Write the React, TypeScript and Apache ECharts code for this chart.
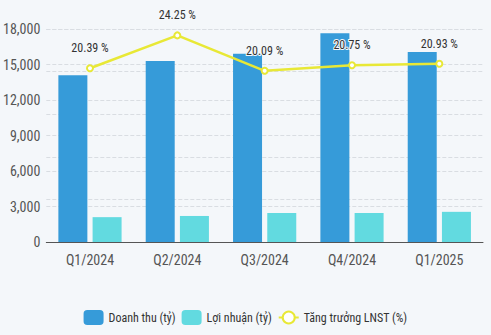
import React, { useEffect, useRef } from "react";
import * as echarts from "echarts";

const categories = ["Q1/2024", "Q2/2024", "Q3/2024", "Q4/2024", "Q1/2025"];
const revenue = [14100, 15300, 15900, 17650, 16050];
const profit = [2100, 2200, 2450, 2450, 2550];
const growth = [20.39, 24.25, 20.09, 20.75, 20.93];
const seriesNames = ["Doanh thu (tỷ)", "Lợi nhuận (tỷ)", "Tăng trưởng LNST (%)"];

export default function App() {
  const ref = useRef<HTMLDivElement>(null);
  useEffect(() => {
    if (!ref.current) return;
    const chart = echarts.init(ref.current, null, { renderer: "svg" });
    const font = "'Liberation Sans Narrow', 'Roboto Condensed', Roboto, sans-serif";
    chart.setOption({
      animation: false,
      backgroundColor: "#f4f7fa",
      textStyle: { fontFamily: font },
      grid: { left: 42, right: 8, top: 29, bottom: 93 },
      legend: {
        bottom: 5,
        left: "center",
        itemWidth: 20,
        itemHeight: 15,
        itemGap: 6,
        textStyle: { fontFamily: font, fontSize: 12, color: "#333" },
        data: [
          { name: seriesNames[0], icon: "roundRect" },
          { name: seriesNames[1], icon: "roundRect" },
          { name: seriesNames[2] },
        ],
      },
      xAxis: {
        type: "category",
        data: categories,
        axisLine: { lineStyle: { color: "#555" } },
        axisTick: { lineStyle: { color: "#555" } },
        axisLabel: { color: "#555", fontSize: 14, margin: 11, fontFamily: font },
      },
      yAxis: [
        {
          type: "value",
          min: 0,
          max: 18000,
          interval: 3000,
          axisLine: { show: false },
          axisTick: { show: false },
          axisLabel: {
            color: "#555",
            fontSize: 14,
            margin: 6,
            fontFamily: font,
            formatter: (v: number) => v.toLocaleString("en-US"),
          },
          splitLine: { lineStyle: { type: "dashed", color: "#d9dde2" } },
        },
        {
          type: "value",
          min: 0,
          max: 25,
          interval: 5,
          axisLine: { show: false },
          axisTick: { show: false },
          axisLabel: { show: false },
          splitLine: { lineStyle: { type: "dashed", color: "#d9dde2" } },
        },
      ],
      series: [
        {
          name: seriesNames[0],
          type: "bar",
          data: revenue,
          barWidth: 29,
          barGap: "18%",
          itemStyle: { color: "#369bd9" },
        },
        {
          name: seriesNames[1],
          type: "bar",
          data: profit,
          barWidth: 29,
          itemStyle: { color: "#62dae0" },
        },
        {
          name: seriesNames[2],
          type: "line",
          yAxisIndex: 1,
          data: growth,
          symbol: "emptyCircle",
          symbolSize: 6,
          lineStyle: { color: "#e8e836", width: 2.5 },
          itemStyle: { color: "#e8e836", borderWidth: 2 },
          label: {
            show: true,
            position: "top",
            distance: 10,
            color: "#333",
            fontSize: 12,
            fontFamily: font,
            textBorderColor: "#f4f7fa",
            textBorderWidth: 2,
            formatter: (p: any) => p.value.toFixed(2) + " %",
          },
          z: 5,
        },
      ],
    });
    return () => chart.dispose();
  }, []);
  return (
    <div
      ref={ref}
      style={{ position: "fixed", left: 0, top: 0, width: 491, height: 335 }}
    />
  );
}
